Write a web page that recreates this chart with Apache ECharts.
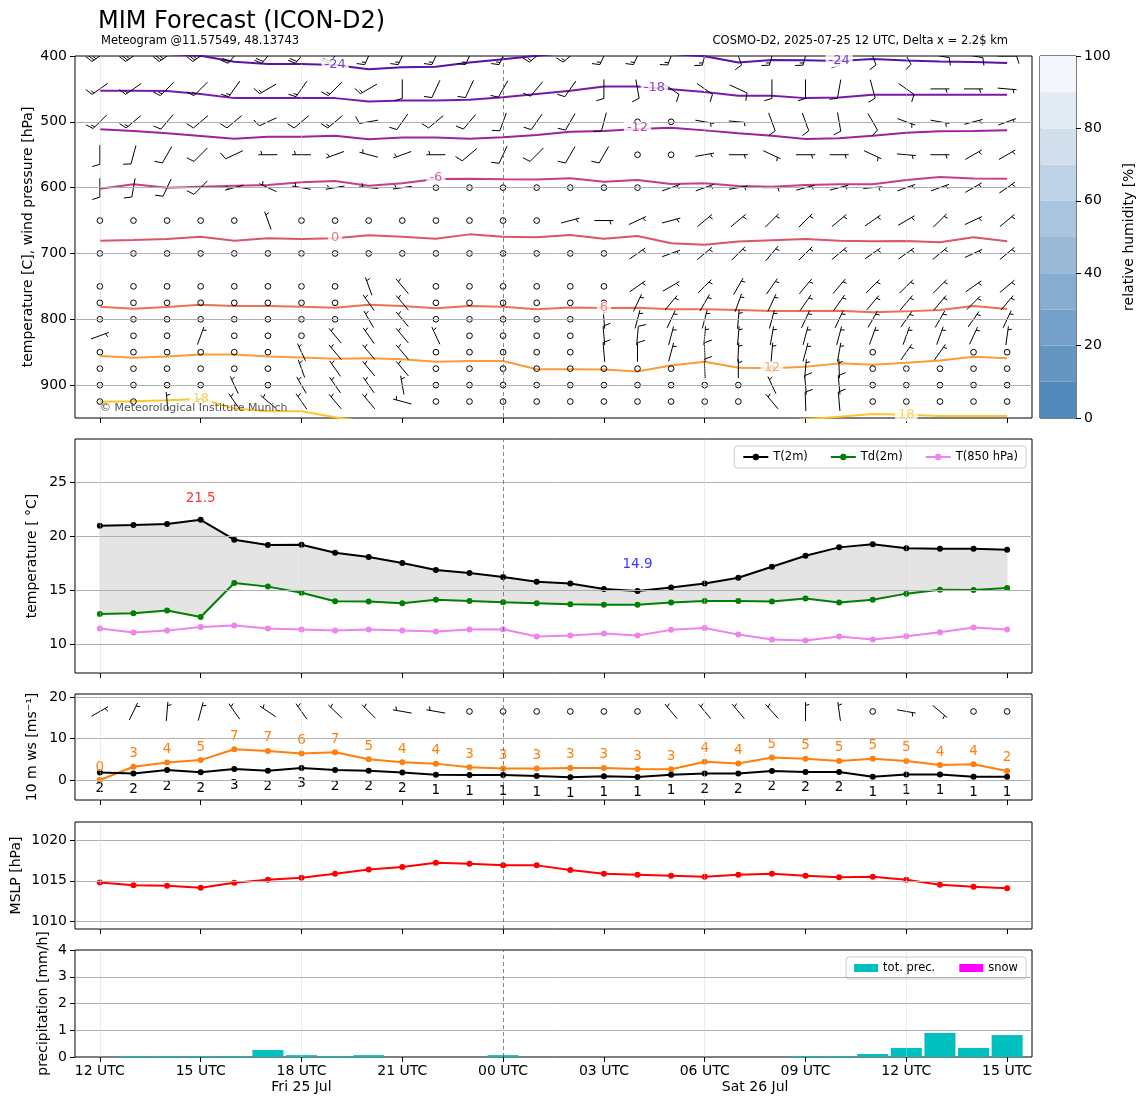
<!DOCTYPE html>
<html><head><meta charset="utf-8">
<script src="https://cdn.jsdelivr.net/npm/echarts@6/dist/echarts.min.js"></script>
<style>html,body{margin:0;padding:0;background:#fff}#c{width:1148px;height:1105px}</style>
</head><body><div id="c"></div>
<script>
// ---------- time axis ----------
const hours = [0,1,2,3,4,5,6,7,8,9,10,11,12,13,14,15,16,17,18,19,20,21,22,23,24,25,26,27];
const tickHours = [0,3,6,9,12,15,18,21,24,27];
const tickLabels = ['12 UTC','15 UTC','18 UTC','21 UTC','00 UTC','03 UTC','06 UTC','09 UTC','12 UTC','15 UTC'];
const dayHours = [6, 19.5];
const dayLabels = ['Fri 25 Jul', 'Sat 26 Jul'];
const vLightHours = [0, 6, 18, 24];
const vDarkHours = [12];

// ---------- surface temperatures ----------
const t2m  = [20.96,21.02,21.11,21.51,19.66,19.17,19.2,18.46,18.06,17.5,16.85,16.57,16.2,15.77,15.59,15.09,14.9,15.22,15.59,16.14,17.16,18.18,18.95,19.23,18.86,18.83,18.83,18.73];
const td2m = [12.78,12.84,13.09,12.5,15.65,15.31,14.75,13.95,13.92,13.77,14.1,13.98,13.86,13.77,13.67,13.64,13.64,13.83,13.98,13.98,13.92,14.2,13.83,14.1,14.66,15.03,15.0,15.19];
const t850 = [11.42,11.05,11.23,11.57,11.7,11.42,11.33,11.23,11.33,11.23,11.14,11.33,11.36,10.68,10.77,10.96,10.77,11.3,11.48,10.86,10.4,10.31,10.68,10.4,10.71,11.08,11.51,11.33];

// ---------- 10 m wind ----------
const ws10   = [1.8,1.55,2.4,1.85,2.65,2.25,2.9,2.4,2.25,1.8,1.3,1.2,1.2,0.95,0.7,0.9,0.75,1.3,1.6,1.6,2.2,1.95,1.95,0.8,1.35,1.35,0.8,0.8];
const gust10 = [0,3.2,4.2,4.8,7.4,7.0,6.4,6.7,5.0,4.3,3.95,3.1,2.75,2.75,2.9,2.9,2.65,2.6,4.4,4.0,5.4,5.1,4.6,5.1,4.6,3.6,3.8,2.2];
const dir10  = [60,26,5,15,325,304,325,314,315,280,280,0,0,0,0,0,0,320,320,320,318,0,352,0,100,130,0,0];

// ---------- MSLP & precipitation ----------
const mslp = [1014.8,1014.47,1014.39,1014.14,1014.75,1015.12,1015.37,1015.86,1016.39,1016.68,1017.21,1017.09,1016.89,1016.89,1016.33,1015.86,1015.74,1015.61,1015.49,1015.74,1015.86,1015.61,1015.45,1015.49,1015.12,1014.51,1014.26,1014.1];
const precip = [0,0.04,0.04,0.04,0.04,0.26,0.07,0.04,0.07,0,0,0,0.07,0,0,0,0,0,0,0,0,0.04,0.04,0.11,0.34,0.9,0.34,0.82];
const snow   = [0,0,0,0,0,0,0,0,0,0,0,0,0,0,0,0,0,0,0,0,0,0,0,0,0,0,0,0];

// ---------- isotherms (pressure in hPa of each isotherm per hour) ----------
const isoLevels = [-24,-18,-12,-6,0,6,12,18];
const isoColors = ['#5a12a8','#7a18ad','#9d21a0','#c63f86','#db546a','#ee7052','#fb9c38','#fdc52c'];
const isoM24 = [396,396,397,399.5,408.6,412,412,413.7,420,417,416.5,410,405,399.5,395,395,395,397,400.5,410,406,406.6,407.6,404.6,407,408.3,409,410.6];
const isoM18 = [452.7,452.7,453,457.7,464,464,464,464,469,467.5,467.5,466.4,462.8,457.7,452.7,446.5,446.5,450.6,454.7,460.3,460.3,464,463,459,459,459,459,459];
const isoM12 = [511.4,514,517.5,521.5,525.6,522.5,522.5,521,526.6,524,524,525.6,523.6,520,515,514,511,509,513,517.5,521,526,525,521,516.5,514.5,514,513];
const isoM6  = [601.6,595,600,598.5,597,596,592,590,597,593.5,587,586.4,587.4,587.7,585.9,591,588.5,594.5,593.5,597.6,598.5,596,595,595,588.5,583.9,586,586.4];
const iso0   = [680.6,679.5,678,674.5,680.6,677,678,677,672.5,674.5,677.5,671,674.5,675.5,672,677.5,673.5,684.6,686.6,682,680,678,680.6,681.6,681,683,675.5,681.6];
const iso6   = [781,784,781.5,778,780,780,781,782.4,778,780,783.3,780,781,784.9,782.2,783,782.4,784.9,784.9,786,787.5,787.5,787,789.5,788,786,780,784.4];
const iso12  = [855.9,858.4,856.4,853.4,853.4,856.4,857.9,860,859.4,860.9,864.5,863.4,863.4,875.9,875.9,876.4,879.4,870.3,864.5,873.6,874.3,872,867,869,866,862.5,856.9,859.4];
const iso18  = [925.2,924.7,923.2,921,935.5,939.6,939.8,949,956,958,958,958,958,958,958,958,958,958,958,958,956,952,948,944,945,947,947,947];
const isoLines = [isoM24, isoM18, isoM12, isoM6, iso0, iso6, iso12, iso18];
const clabVal   = [-24,-24,-18,-12,-6,0,6,12,18,18];
const clabHours = [7,22,16.5,16,10,7,15,20,3,24];
const clabP     = [413.7,407.6,448.6,509.4,585.4,676.6,783,874,921,945.6];

// ---------- upper-air wind barbs (direction deg, speed kt) ----------
const levels = [400,450,500,550,600,650,700,750,775,800,825,850,875,900,925];
const dir400 = [235,235,235,235,220,220,220,220,205,205,205,205,205,230,230,205,205,200,195,160,195,195,180,160,150,100,100,90];
const spd400 = [25,25,25,25,20,20,20,20,15,15,15,15,15,15,15,15,15,15,15,10,15,15,15,10,10,10,10,10];
const dir450 = [235,235,225,225,215,240,215,225,240,180,205,205,210,220,215,180,170,125,125,115,180,180,190,165,125,90,90,95];
const spd450 = [15,15,15,15,15,15,15,15,15,10,10,10,10,10,10,10,10,10,10,10,10,10,10,10,10,5,5,5];
const dir500 = [225,230,220,230,230,245,230,230,260,215,230,220,200,215,210,195,0,0,100,95,160,160,170,150,110,100,75,70];
const spd500 = [15,15,10,10,10,10,10,15,10,10,10,10,10,10,10,10,0,0,5,5,10,10,10,10,5,5,5,5];
const dir550 = [180,195,210,225,245,270,270,250,285,250,270,230,205,225,210,210,0,0,80,90,115,90,90,115,95,90,60,60];
const spd550 = [10,10,10,10,10,5,5,5,5,5,5,10,10,10,10,10,0,0,5,5,5,5,5,5,5,5,5,5];
const dir600 = [180,190,205,225,255,295,280,260,275,262,0,0,0,0,0,0,0,70,70,80,90,75,75,85,70,70,60,55];
const spd600 = [10,10,10,10,5,5,5,5,5,5,0,0,0,0,0,0,0,5,5,5,5,5,5,5,5,5,5,5];
const dir650 = [0,0,0,0,0,340,0,0,0,0,0,0,0,0,75,90,65,75,50,50,45,45,50,55,60,45,65,50];
const spd650 = [0,0,0,0,0,5,0,0,0,0,0,0,0,0,5,5,5,5,5,5,5,5,5,5,5,5,5,5];
const dir700 = [0,0,0,0,0,0,0,0,0,0,0,0,0,0,0,0,55,70,50,45,40,45,50,55,55,50,65,50];
const spd700 = [0,0,0,0,0,0,0,0,0,0,0,0,0,0,0,0,5,5,5,5,5,5,5,5,5,5,5,5];
const dir750 = [0,0,0,0,0,0,0,0,340,320,0,0,0,0,0,0,55,60,45,30,35,40,40,45,45,45,55,50];
const spd750 = [0,0,0,0,0,0,0,0,5,5,0,0,0,0,0,0,5,5,5,5,5,5,5,5,5,5,5,5];
const dir775 = [0,0,0,0,0,0,0,0,325,320,0,0,0,0,0,0,25,40,30,20,25,35,35,40,40,40,45,40];
const spd775 = [0,0,0,0,0,0,0,0,5,5,0,0,0,0,0,0,5,5,5,5,5,5,5,5,5,5,5,5];
const dir800 = [0,0,0,0,0,0,0,0,330,320,0,0,0,0,0,355,15,25,15,5,15,25,25,30,35,30,35,25];
const spd800 = [0,0,0,0,0,0,0,0,5,5,0,0,0,0,0,5,5,5,5,5,5,5,5,5,5,5,5,5];
const dir825 = [70,0,0,20,0,0,0,320,325,320,335,0,0,0,0,355,5,15,5,5,10,15,15,20,20,20,25,8];
const spd825 = [5,0,0,5,0,0,0,5,5,5,5,0,0,0,0,10,10,5,5,5,5,5,5,5,5,5,5,5];
const dir850 = [0,0,0,0,0,0,335,320,320,320,0,0,0,0,0,355,0,15,358,3,5,15,10,0,35,35,0,0];
const spd850 = [0,0,0,0,0,0,5,5,5,5,0,0,0,0,0,10,10,5,10,5,5,5,5,0,5,5,0,0];
const dir875 = [0,0,0,0,0,0,340,325,320,320,0,0,0,0,0,0,0,0,358,0,0,5,358,0,0,0,0,0];
const spd875 = [0,0,0,0,0,0,5,5,5,5,0,0,0,0,0,0,0,0,10,5,0,5,5,0,0,0,0,0];
const dir900 = [0,0,0,0,335,0,330,325,325,350,0,0,0,0,0,0,0,0,0,0,335,355,355,0,0,0,0,0];
const spd900 = [0,0,0,0,5,0,5,5,5,5,0,0,0,0,0,0,0,0,0,0,5,10,10,0,0,0,0,0];
const dir925 = [0,0,355,0,325,310,325,320,320,285,0,0,0,0,0,0,0,0,0,0,320,358,355,0,0,0,0,0];
const spd925 = [0,0,5,0,5,5,5,5,5,5,0,0,0,0,0,0,0,0,0,0,5,10,10,0,0,0,0,0];
const dirByLevel = [dir400,dir450,dir500,dir550,dir600,dir650,dir700,dir750,dir775,dir800,dir825,dir850,dir875,dir900,dir925];
const spdByLevel = [spd400,spd450,spd500,spd550,spd600,spd650,spd700,spd750,spd775,spd800,spd825,spd850,spd875,spd900,spd925];

// ---------- colorbar ----------
const rhBandColors = ['#5189bb','#6596c2','#75a0c9','#86acd0','#98b8d6','#a9c4dc','#bdd2e6','#d1dfed','#e2eaf3','#f3f7fb'];

// ---------- y ticks ----------
const pTicks = [400,500,600,700,800,900];
const tTicks = [10,15,20,25];
const wTicks = [0,10,20];
const mTicks = [1010,1015,1020];
const prTicks = [0,1,2,3,4];

// ================= build =================
const FONT = 'DejaVu Sans';
const TICK_FS = 14;
const CLEAR = 'rgba(0,0,0,0)';
const X_MIN = -0.74, X_MAX = 27.74;
const pair = arr => hours.map((h, i) => [h, arr[i]]);

function barbItem(params, api) {
  const c = api.coord([api.value(0), api.value(1)]);
  const spd = api.value(2), dir = api.value(3);
  const L = 19;
  const mag = 5 * Math.floor(spd / 5 + 0.5);
  const st = {stroke: '#000', lineWidth: 1, fill: null};
  if (mag < 5) {
    return {type: 'circle', shape: {cx: c[0], cy: c[1], r: 0.15 * L}, style: st};
  }
  const th = dir * Math.PI / 180;
  const dx = Math.sin(th), dy = -Math.cos(th);
  const rx = Math.cos(th), ry = Math.sin(th);
  const tip = [c[0] + dx * L / 2, c[1] + dy * L / 2];
  const tail = [c[0] - dx * L / 2, c[1] - dy * L / 2];
  const ch = [{type: 'line', shape: {x1: tail[0], y1: tail[1], x2: tip[0], y2: tip[1]}, style: st}];
  const sp = 0.125 * L, fh = 0.4 * L, fw = 0.25 * L;
  const nfull = Math.floor(mag / 10);
  const half = (mag % 10) >= 5;
  let off = 0;
  for (let k = 0; k < nfull; k++) {
    const s = [tip[0] - dx * off, tip[1] - dy * off];
    ch.push({type: 'line', shape: {x1: s[0], y1: s[1], x2: s[0] + rx * fh + dx * fw / 2, y2: s[1] + ry * fh + dy * fw / 2}, style: st});
    off += sp;
  }
  if (half) {
    if (off === 0) off = 1.5 * sp;
    const s = [tip[0] - dx * off, tip[1] - dy * off];
    ch.push({type: 'line', shape: {x1: s[0], y1: s[1], x2: s[0] + rx * fh / 2 + dx * fw / 4, y2: s[1] + ry * fh / 2 + dy * fw / 4}, style: st});
  }
  return {type: 'group', children: ch};
}

const barbData = [];
levels.forEach((p, li) => hours.forEach((h, i) => barbData.push([h, p, spdByLevel[li][i], dirByLevel[li][i]])));
const barb10Data = hours.map((h, i) => [h, 16.5, ws10[i] * 1.9438, dir10[i]]);

const grids = [
  {left: 75, top: 56, width: 957, height: 362},
  {left: 75, top: 439, width: 957, height: 234},
  {left: 75, top: 694, width: 957, height: 106},
  {left: 75, top: 822, width: 957, height: 107},
  {left: 75, top: 950, width: 957, height: 107},
  {left: 1040, top: 56, width: 36, height: 362}
].map(g => Object.assign(g, {show: true, borderColor: '#000', borderWidth: 1, backgroundColor: 'transparent', containLabel: false, outerBoundsMode: 'none'}));

function xAx(gi, showLabels) {
  return {type: 'value', gridIndex: gi, min: X_MIN, max: X_MAX,
    axisLine: {show: false, onZero: false}, splitLine: {show: false},
    axisTick: {show: true, length: 5, lineStyle: {color: '#000'}, customValues: tickHours},
    axisLabel: {show: showLabels, customValues: tickHours, color: '#000', fontSize: TICK_FS, margin: 7, fontFamily: FONT,
      formatter: v => tickLabels[tickHours.indexOf(v)]}};
}
function yAx(gi, min, max, ticks, name, gap, inverse) {
  return {type: 'value', gridIndex: gi, min: min, max: max, inverse: !!inverse,
    axisLine: {show: false, onZero: false}, splitLine: {show: false},
    axisTick: {show: true, length: 5, lineStyle: {color: '#000'}, customValues: ticks},
    axisLabel: {customValues: ticks, color: '#000', fontSize: TICK_FS, margin: 8, fontFamily: FONT, formatter: v => String(v)},
    name: name, nameLocation: 'middle', nameRotate: 90, nameGap: gap, nameMoveOverlap: false,
    nameTextStyle: {fontSize: 14, color: '#000', fontFamily: FONT}};
}
function helper(gi, hLines, yMin, yMax) {
  const hl = {color: '#b0b0b0', width: 1, type: 'solid'};
  const vl = {color: '#cfcfcf', width: 0.8, type: 'dotted'};
  const vd = {color: '#666', width: 0.8, type: [4, 3]};
  return {type: 'line', xAxisIndex: gi, yAxisIndex: gi, data: [], z: 1, silent: true, symbol: 'none',
    markLine: {silent: true, symbol: ['none', 'none'], label: {show: false}, animation: false, emphasis: {disabled: true},
      data: [].concat(
        hLines.map(v => [{coord: [X_MIN, v], lineStyle: hl}, {coord: [X_MAX, v]}]),
        vLightHours.map(v => [{coord: [v, yMin], lineStyle: vl}, {coord: [v, yMax]}]),
        vDarkHours.map(v => [{coord: [v, yMin], lineStyle: vd}, {coord: [v, yMax]}])
      )}};
}

const series = [];
// ---- panel 1 ----
series.push(helper(0, [500, 600, 700, 800, 900], 400, 950));
isoLines.forEach((arr, k) => series.push({type: 'line', name: 'iso' + isoLevels[k], xAxisIndex: 0, yAxisIndex: 0,
  data: pair(arr), showSymbol: false, symbol: 'none', clip: true, z: 2, silent: true,
  lineStyle: {color: isoColors[k], width: 2}}));
series.push({type: 'custom', name: 'barbs', xAxisIndex: 0, yAxisIndex: 0, clip: true, z: 3, silent: true,
  renderItem: barbItem, data: barbData});
series.push({type: 'scatter', name: 'clabels', xAxisIndex: 0, yAxisIndex: 0, z: 6, silent: true, symbolSize: 2,
  itemStyle: {color: CLEAR},
  data: clabVal.map((v, i) => ({value: [clabHours[i], clabP[i], v],
    label: {color: isoColors[isoLevels.indexOf(v)]}})),
  label: {show: true, position: 'inside', formatter: p => String(p.value[2]), fontSize: 13, fontFamily: FONT,
    backgroundColor: '#fff', padding: [0, 3], textBorderWidth: 0}});

// ---- panel 2 ----
series.push({type: 'custom', name: 'fill', xAxisIndex: 1, yAxisIndex: 1, z: 0, silent: true, clip: true,
  data: hours.slice(0, -1).map((h, i) => [h, t2m[i], td2m[i], hours[i + 1], t2m[i + 1], td2m[i + 1]]),
  renderItem: (params, api) => ({type: 'polygon', shape: {points: [
    api.coord([api.value(0), api.value(1)]), api.coord([api.value(3), api.value(4)]),
    api.coord([api.value(3), api.value(5)]), api.coord([api.value(0), api.value(2)])]},
    style: {fill: '#e4e4e4', stroke: '#e4e4e4', lineWidth: 0.6}})});
series.push(helper(1, tTicks, 7.3, 29.0));
const lineBase = (name, gi, arr, color) => ({type: 'line', name: name, xAxisIndex: gi, yAxisIndex: gi, data: pair(arr),
  symbol: 'circle', symbolSize: 6, showSymbol: true, z: 3, itemStyle: {color: color}, lineStyle: {color: color, width: 2}});
series.push(lineBase('T(2m)', 1, t2m, '#000'));
series.push(lineBase('Td(2m)', 1, td2m, '#008000'));
series.push(lineBase('T(850 hPa)', 1, t850, '#ee82ee'));
const iMax = t2m.indexOf(Math.max.apply(null, t2m));
const iMin = t2m.indexOf(Math.min.apply(null, t2m));
series.push({type: 'scatter', name: 'extremes', xAxisIndex: 1, yAxisIndex: 1, z: 5, silent: true, symbolSize: 2,
  itemStyle: {color: CLEAR},
  data: [{value: [hours[iMax], t2m[iMax]], label: {color: '#ff0000', offset: [0, -21]}},
         {value: [hours[iMin], t2m[iMin]], label: {color: '#0000ff', offset: [0, -27]}}],
  label: {show: true, position: 'inside', fontSize: 13.5, fontFamily: FONT, textBorderWidth: 0, formatter: p => p.value[1].toFixed(1)}});

// ---- panel 3 ----
series.push(helper(2, wTicks, -4.8, 20.7));
const sG = lineBase('gust', 2, gust10, '#ff7f0e');
sG.label = {show: true, position: 'top', distance: 3, color: '#ff7f0e', fontSize: 13.5, fontFamily: FONT, formatter: p => Math.round(p.value[1])};
series.push(sG);
const sW = lineBase('ws', 2, ws10, '#000');
sW.label = {show: true, position: 'bottom', distance: 6, color: '#000', fontSize: 13.5, fontFamily: FONT, formatter: p => Math.round(p.value[1])};
series.push(sW);
series.push({type: 'custom', name: 'barbs10', xAxisIndex: 2, yAxisIndex: 2, clip: true, z: 3, silent: true,
  renderItem: barbItem, data: barb10Data});

// ---- panel 4 ----
series.push(helper(3, mTicks, 1009.1, 1022.2));
series.push(lineBase('MSLP', 3, mslp, '#ff0000'));

// ---- panel 5 ----
series.push(helper(4, [1, 2, 3], 0, 4));
series.push({type: 'bar', name: 'tot. prec.', xAxisIndex: 4, yAxisIndex: 4, data: pair(precip), barWidth: 31, barGap: '-100%',
  itemStyle: {color: '#00bfbf', borderWidth: 0}, z: 2});
series.push({type: 'bar', name: 'snow', xAxisIndex: 4, yAxisIndex: 4, data: pair(snow), barWidth: 31, barGap: '-100%',
  itemStyle: {color: '#ff00ff', borderWidth: 0}, z: 2});

// ---- colorbar ----
rhBandColors.forEach((c, k) => series.push({type: 'bar', name: 'rh' + k, xAxisIndex: 5, yAxisIndex: 5, stack: 'rh',
  data: [10], barWidth: '100%', itemStyle: {color: c}, silent: true}));

const xAxes = [xAx(0, false), xAx(1, false), xAx(2, false), xAx(3, false), xAx(4, true),
  {type: 'category', gridIndex: 5, data: [''], show: false}];
const yAxes = [
  yAx(0, 400, 950, pTicks, 'temperature [C], wind pressure [hPa]', 40, true),
  yAx(1, 7.3, 29.0, tTicks, 'temperature [ °C]', 36),
  yAx(2, -4.8, 20.7, wTicks, '10 m ws [ms⁻¹]', 36),
  yAx(3, 1009.1, 1022.2, mTicks, 'MSLP [hPa]', 52),
  yAx(4, 0, 4, prTicks, 'precipitation [mm/h]', 25),
  {type: 'value', gridIndex: 5, position: 'right', min: 0, max: 100, interval: 20,
   axisLine: {show: false, onZero: false}, splitLine: {show: false},
   axisTick: {show: true, length: 5, lineStyle: {color: '#000'}},
   axisLabel: {color: '#000', fontSize: TICK_FS, margin: 8, fontFamily: FONT},
   name: 'relative humidity [%]', nameLocation: 'middle', nameRotate: 90, nameGap: 46, nameMoveOverlap: false,
   nameTextStyle: {fontSize: 14, color: '#000', fontFamily: FONT}}
];

const chart = echarts.init(document.getElementById('c'), null, {renderer: 'canvas'});
chart.setOption({
  animation: false,
  backgroundColor: '#fff',
  textStyle: {fontFamily: FONT},
  title: [
    {text: 'MIM Forecast (ICON-D2)', left: 98, top: 10, padding: 0, textStyle: {fontSize: 24, fontWeight: 'normal', color: '#000', fontFamily: FONT}},
    {text: 'Meteogram @11.57549, 48.13743', left: 101, top: 35, padding: 0, textStyle: {fontSize: 11.5, fontWeight: 'normal', color: '#000', fontFamily: FONT}},
    {text: 'COSMO-D2, 2025-07-25 12 UTC, Delta x = 2.2$ km', right: 140, top: 35, padding: 0, textStyle: {fontSize: 11.5, fontWeight: 'normal', color: '#000', fontFamily: FONT}}
  ],
  legend: [
    {data: ['T(2m)', 'Td(2m)', 'T(850 hPa)'], right: 122, top: 446, itemWidth: 25, itemHeight: 8, itemGap: 22,
     textStyle: {fontSize: 11.5, color: '#000', fontFamily: FONT}, borderColor: '#cccccc', borderWidth: 1, borderRadius: 3,
     padding: [5, 8], backgroundColor: '#fff', selectedMode: false},
    {data: ['tot. prec.', 'snow'], right: 122, top: 957, itemWidth: 24, itemHeight: 8, itemGap: 24, icon: 'rect',
     textStyle: {fontSize: 11.5, color: '#000', fontFamily: FONT}, borderColor: '#cccccc', borderWidth: 1, borderRadius: 3,
     padding: [5, 8], backgroundColor: '#fff', selectedMode: false}
  ],
  grid: grids,
  xAxis: xAxes,
  yAxis: yAxes,
  series: series
});

// day labels under the time axis, placed through the axis scale
const gBottom = 950 + 107;
const graphics = [{type: 'text', left: 100, top: 403, z: 100, silent: true,
  style: {text: '© Meteorological Institute Munich', fill: '#555', font: '11px "DejaVu Sans"'}}];
dayHours.forEach((h, i) => {
  const px = chart.convertToPixel({xAxisIndex: 4}, h);
  graphics.push({type: 'text', x: px, y: gBottom + 30, silent: true, z: 100,
    style: {text: dayLabels[i], fill: '#000', font: '14px "DejaVu Sans"', textAlign: 'center', textVerticalAlign: 'middle'}});
});
chart.setOption({graphic: graphics});
</script></body></html>
